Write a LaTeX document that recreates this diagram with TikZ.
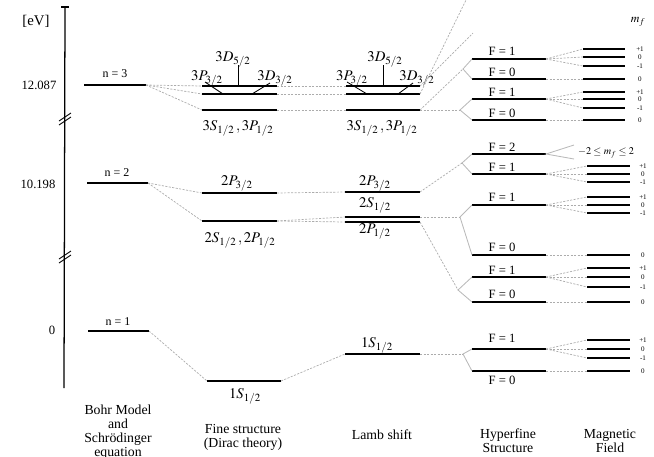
\documentclass[tikz,border=0pt]{standalone}
\usepackage{mathptmx}
\usepackage{fontspec}
\setmainfont{Liberation Serif}

% one energy level: name, left x, right x, height
\newcommand{\lvl}[4]{\draw[lvl] (#2,#4) coordinate (#1-l) -- (#3,#4) coordinate (#1-r);}

\begin{document}
\begin{tikzpicture}[x=0.025cm,y=-0.025cm,
    lvl/.style={line width=1.7pt},
    conn/.style={gray!65,line width=0.5pt,dash pattern=on 1.5pt off 1pt},
    split/.style={gray!55,line width=0.6pt},
    tick/.style={line width=0.6pt},
    lab/.style={font=\fontsize{10.5}{11}\selectfont},
    nlab/.style={font=\fontsize{8.5}{9}\selectfont},
    flab/.style={font=\fontsize{9}{9}\selectfont},
    mlab/.style={font=\fontsize{5}{5}\selectfont},
    colcap/.style={font=\fontsize{9.8}{10}\selectfont,align=center,anchor=north}]
    \useasboundingbox (0,0) rectangle (654,456);

    % energy axis
    \draw[line width=0.9pt] (65,7) -- (64,388);
    \draw[line width=1.6pt] (61,7) -- (69,7);
    \foreach \yy in {118,256}{
        \draw[tick] (59,\yy+3) -- (71,\yy-5);
        \draw[tick] (59,\yy+7) -- (71,\yy-1);
    }
    \node[lab] (ev) at (36,21) {[eV]};
    \node[flab] (e3) at (39,85) {12.087};
    \node[flab] (e2) at (38,184) {10.198};
    \node[flab] (e1) at (52,330) {0};

    % Bohr model
    \lvl{b3}{84}{146}{85}
    \lvl{b2}{87}{148}{183}
    \lvl{b1}{88}{149}{331}
    \node[nlab] (t-b3) at (115,74) {n = 3};
    \node[nlab] (t-b2) at (117,173) {n = 2};
    \node[nlab] (t-b1) at (118,322) {n = 1};

    % fine structure
    \lvl{fa3}{202}{277}{86}
    \lvl{fb3}{202}{277}{94}
    \lvl{fc3}{202}{277}{110}
    \lvl{fp2}{202}{277}{193}
    \lvl{fs2}{202}{277}{221}
    \lvl{f1}{207}{281}{381}
    \draw[tick] (238,65) -- (238,86);
    \draw[tick] (205,82) -- (223,94);
    \draw[tick] (270,83) -- (252,94);
    \node[lab] (t-fd5) at (233,59) {$3D_{5/2}$};
    \node[lab] (t-fp3) at (207,78) {$3P_{3/2}$};
    \node[lab] (t-fd3) at (275,78) {$3D_{3/2}$};
    \node[lab] (t-fs3) at (238,128) {$3S_{1/2}\,,3P_{1/2}$};
    \node[lab] (t-fp2) at (237,183) {$2P_{3/2}$};
    \node[lab] (t-fs2) at (240,240) {$2S_{1/2}\,,2P_{1/2}$};
    \node[lab] (t-f1) at (245,396) {$1S_{1/2}$};

    % Lamb shift
    \lvl{la3}{346}{420}{86}
    \lvl{lb3}{346}{420}{94}
    \lvl{lc3}{346}{420}{110}
    \lvl{lp2}{345}{420}{192}
    \lvl{ls2}{345}{420}{217}
    \lvl{lq2}{345}{420}{222}
    \lvl{l1}{345}{420}{354}
    \draw[tick] (383,65) -- (383,86);
    \draw[tick] (347,82) -- (367,94);
    \draw[tick] (413,83) -- (398,94);
    \node[lab] (t-ld5) at (385,59) {$3D_{5/2}$};
    \node[lab] (t-lp3) at (352,78) {$3P_{3/2}$};
    \node[lab] (t-ld3) at (417,78) {$3D_{3/2}$};
    \node[lab] (t-ls3) at (382,128) {$3S_{1/2}\,,3P_{1/2}$};
    \node[lab] (t-lp2) at (375,183) {$2P_{3/2}$};
    \node[lab] (t-ls2) at (375,205) {$2S_{1/2}$};
    \node[lab] (t-lq2) at (375,231) {$2P_{1/2}$};
    \node[lab] (t-l1) at (377,345) {$1S_{1/2}$};

    % hyperfine structure
    \lvl{h3a}{472}{546}{59}
    \lvl{h3b}{472}{546}{79}
    \lvl{h3c}{472}{546}{99}
    \lvl{h3d}{472}{546}{120}
    \lvl{h2a}{472}{546}{154}
    \lvl{h2b}{472}{546}{174}
    \lvl{h2c}{472}{546}{205}
    \lvl{h2d}{472}{546}{255}
    \lvl{h2e}{472}{546}{277}
    \lvl{h2f}{472}{546}{302}
    \lvl{h1a}{472}{546}{349}
    \lvl{h1b}{472}{546}{371}
    \foreach \nm/\yy/\F in {h3a/51/1,h3b/72/0,h3c/92/1,h3d/113/0,
                            h2a/147/2,h2b/167/1,h2c/197/1,h2d/247/0,
                            h2e/270/1,h2f/294/0,h1a/338/1,h1b/380/0}{
        \node[flab] (t-\nm) at (502,\yy) {F = \F};
    }
    \coordinate (v3a) at (463,69);
    \coordinate (v3b) at (460,110);
    \coordinate (v2a) at (462,163);
    \coordinate (v2b) at (460,217);
    \coordinate (v2c) at (458,290);
    \coordinate (v1) at (463,354);
    \draw[split] (h3a-l) -- (v3a) -- (h3b-l);
    \draw[split] (h3c-l) -- (v3b) -- (h3d-l);
    \draw[split] (h2a-l) -- (v2a) -- (h2b-l);
    \draw[split] (h2c-l) -- (v2b) -- (h2d-l);
    \draw[split] (h2e-l) -- (v2c) -- (h2f-l);
    \draw[split] (h1a-l) -- (v1) -- (h1b-l);

    % magnetic field
    \node[font=\fontsize{8.5}{9}\selectfont] (mf) at (638,22) {$m_f$};
    \foreach \src/\yy/\m [count=\i] in {h3a/49/+1,h3a/57/0,h3a/66/-1,h3b/79/0,
                                        h3c/92/+1,h3c/99/0,h3c/108/-1,h3d/120/0}{
        \draw[lvl] (583,\yy) coordinate (za\i) -- (625,\yy);
        \node[mlab] (ta\i) at (640,\yy) {\m};
        \draw[conn] (\src-r) -- (za\i);
    }
    \foreach \src/\yy/\m [count=\i] in {h2b/166/+1,h2b/174/0,h2b/182/-1,
                                        h2c/197/+1,h2c/205/0,h2c/213/-1,h2d/255/0,
                                        h2e/268/+1,h2e/277/0,h2e/287/-1,h2f/302/0,
                                        h1a/340/+1,h1a/349/0,h1a/358/-1,h1b/371/0}{
        \draw[lvl] (587,\yy) coordinate (zb\i) -- (630,\yy);
        \node[mlab] (tb\i) at (643,\yy) {\m};
        \draw[conn] (\src-r) -- (zb\i);
    }
    \coordinate (f2a) at (574,145);
    \coordinate (f2b) at (574,159);
    \draw[split] (f2a) -- (h2a-r) -- (f2b);
    \node[font=\fontsize{7.3}{8}\selectfont] (t-f2) at (606,153) {$-2\le m_f\le 2$};

    % dashed links between columns
    \draw[conn] (b3-r) -- (fa3-l);
    \draw[conn] (b3-r) -- (fb3-l);
    \draw[conn] (b3-r) -- (fc3-l);
    \draw[conn] (fa3-r) -- (la3-l);
    \draw[conn] (fb3-r) -- (lb3-l);
    \draw[conn] (fc3-r) -- (lc3-l);
    \coordinate (up1) at (466,0);
    \coordinate (up2) at (473,33);
    \draw[conn] (lb3-r) -- (up1);
    \draw[conn] (la3-r) -- (up2);
    \draw[conn] (lc3-r) -- (v3a);
    \draw[conn] (lc3-r) -- (v3b);
    \draw[conn] (b2-r) -- (fp2-l);
    \draw[conn] (b2-r) -- (fs2-l);
    \draw[conn] (fp2-r) -- (lp2-l);
    \draw[conn] (fs2-r) -- (ls2-l);
    \draw[conn] (fs2-r) -- (lq2-l);
    \draw[conn] (lp2-r) -- (v2a);
    \draw[conn] (ls2-r) -- (v2b);
    \draw[conn] (lq2-r) -- (v2c);
    \draw[conn] (b1-r) -- (f1-l);
    \draw[conn] (f1-r) -- (l1-l);
    \draw[conn] (l1-r) -- (v1);

    % column captions
    \node[colcap] (c-bohr) at (118,400) {Bohr Model\\and\\Schrödinger\\equation};
    \node[colcap] (c-fine) at (243,419) {Fine structure\\(Dirac theory)};
    \node[colcap] (c-lamb) at (382,425) {Lamb shift};
    \node[colcap] (c-hfs) at (508,424) {Hyperfine\\Structure};
    \node[colcap] (c-mag) at (610,424) {Magnetic\\Field};
\end{tikzpicture}
\end{document}
